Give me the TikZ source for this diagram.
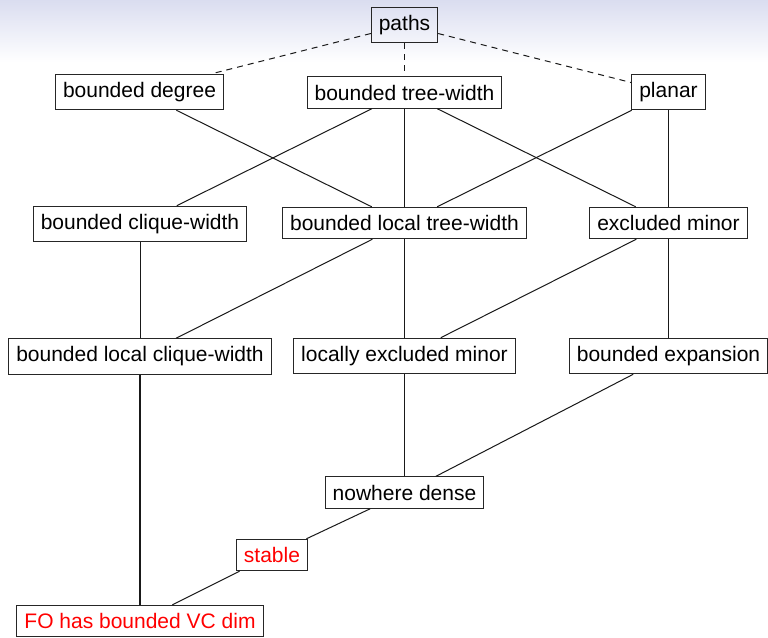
\documentclass[tikz,border=0pt]{standalone}
\usepackage{fontspec}
\setmainfont{Liberation Sans}
\definecolor{topbg}{RGB}{218,221,240}
\tikzset{
  box/.style={draw=black!85, line width=1pt, inner xsep=7.5pt, inner ysep=8pt,
    font=\fontsize{21}{25}\selectfont},
  redbox/.style={box, text=red},
  edge/.style={draw=black!90, line width=1pt},
  thickedge/.style={draw=black!90, line width=2pt},
  dashedge/.style={draw=black!90, line width=1pt, dash pattern=on 6pt off 5pt}
}
\begin{document}
\begin{tikzpicture}[x=1pt,y=-1pt]
\useasboundingbox (0,0) rectangle (768,637);
\shade[top color=topbg, bottom color=white] (0,0) rectangle (768,62);
\fill[white] (0,62) rectangle (768,637);

\node[box] (paths) at (404.5,25) {paths};
\node[box] (bd) at (139.5,92) {bounded degree};
\node[box] (btw) at (404.5,92.5) {bounded tree-width};
\node[box] (pl) at (668.5,92) {planar};
\node[box] (bcw) at (140,224) {bounded clique-width};
\node[box] (blt) at (404.5,223) {bounded local tree-width};
\node[box] (em) at (668.5,223) {excluded minor};
\node[box] (blcw) at (140,356.5) {bounded local clique-width};
\node[box] (lem) at (404.5,356) {locally excluded minor};
\node[box] (be) at (668.5,356) {bounded expansion};
\node[box] (nd) at (404.5,492.6) {nowhere dense};
\node[redbox] (st) at (272,555) {stable};
\node[redbox] (fo) at (140,621) {FO has bounded VC dim};

\draw[dashedge] (paths) -- (bd);
\draw[dashedge] (paths) -- (btw);
\draw[dashedge] (paths) -- (pl);

\draw[edge] (bd) -- (blt);
\draw[edge] (btw) -- (bcw);
\draw[edge] (btw) -- (blt);
\draw[edge] (btw) -- (em);
\draw[edge] (pl) -- (blt);
\draw[edge] (pl) -- (em);

\draw[edge] (bcw) -- (blcw);
\draw[edge] (blt) -- (blcw);
\draw[edge] (blt) -- (lem);
\draw[edge] (em) -- (lem);
\draw[edge] (em) -- (be);

\draw[edge] (lem) -- (nd);
\draw[edge] (be) -- (nd);
\draw[edge] (nd) -- (st);
\draw[edge] (st) -- (fo);
\draw[thickedge] (blcw) -- (fo);
\end{tikzpicture}
\end{document}
